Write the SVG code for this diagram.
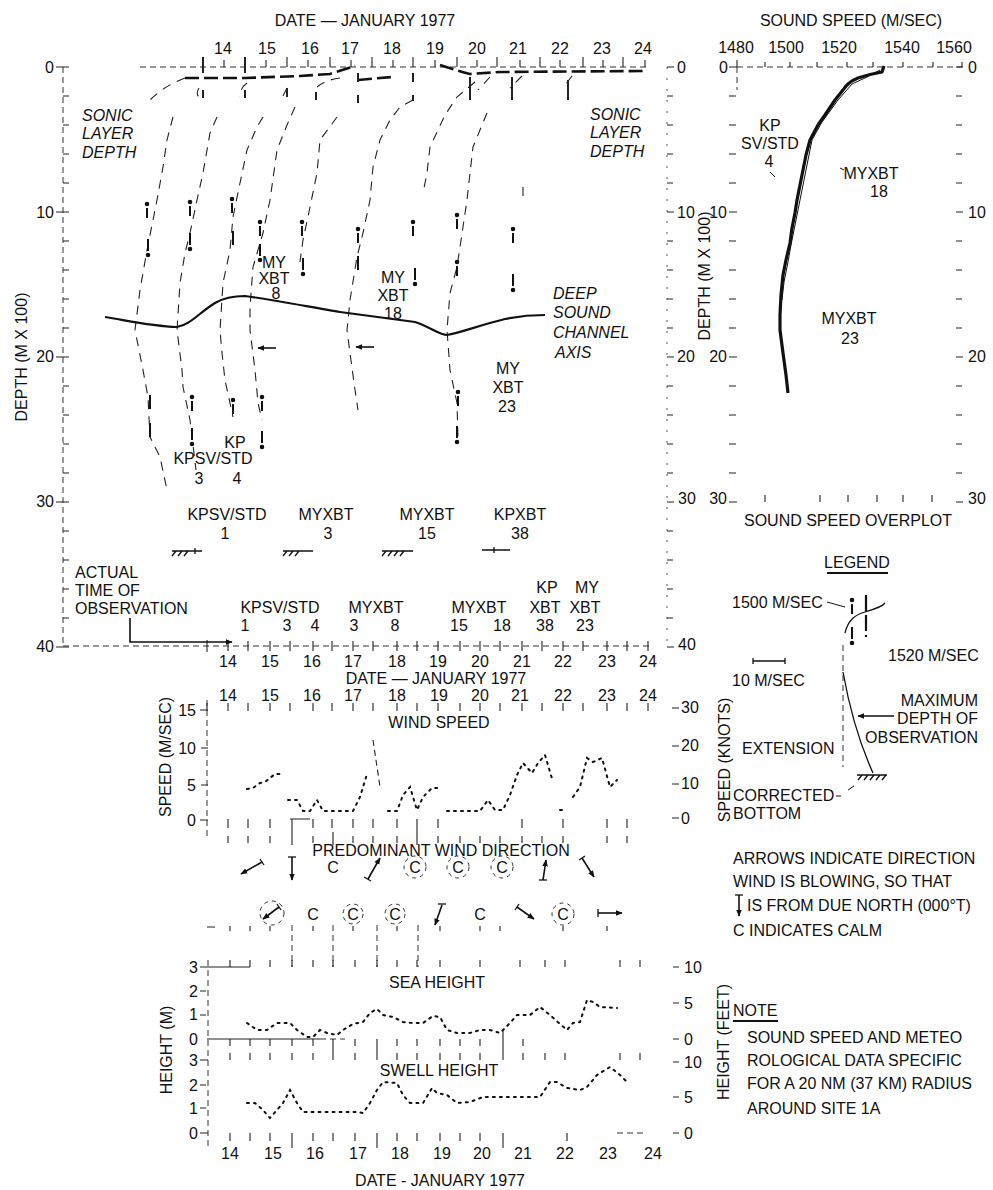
<svg xmlns="http://www.w3.org/2000/svg" width="993" height="1190" viewBox="0 0 993 1190">
<defs>
<style>
text{font-family:"Liberation Sans",Arial,sans-serif;font-size:16px;fill:#111}
.i{font-style:italic}
.m{text-anchor:middle}
.e{text-anchor:end}
.ax{fill:none;stroke:#222;stroke-width:1.1}
.dax{fill:none;stroke:#333;stroke-width:1;stroke-dasharray:6 4}
.fax{fill:none;stroke:#555;stroke-width:1;stroke-dasharray:2 9}
.tr{fill:none;stroke:#222;stroke-width:1.1;stroke-dasharray:9 7}
.sl{fill:none;stroke:#111;stroke-width:2.6;stroke-dasharray:14 5}
.dat{fill:none;stroke:#111;stroke-width:2;stroke-dasharray:2 5;stroke-linecap:round}
.arr{fill:none;stroke:#111;stroke-width:1.6;marker-end:url(#ah)}
.thin{fill:none;stroke:#111;stroke-width:1.3}
.cir{fill:none;stroke:#333;stroke-width:1;stroke-dasharray:4 4}
.mk{stroke:#111;stroke-width:2;fill:#111}
</style>
<marker id="ah" viewBox="0 0 10 10" refX="9" refY="5" markerWidth="7" markerHeight="7" orient="auto" markerUnits="userSpaceOnUse"><path d="M0,1 L10,5 L0,9 z" fill="#111"/></marker>
<g id="mi"><circle cx="0" cy="-8" r="1.3"/><path d="M0,-4V6"/></g>
<g id="mx"><path d="M0,-9V3"/><circle cx="0" cy="7" r="1.3"/></g>
<g id="mb"><path d="M0,-7V7"/></g>
</defs>
<rect width="993" height="1190" fill="#fff"/>

<g id="main-plot-axes">
<text x="365" y="26" class="m">DATE — JANUARY 1977</text>
<g class="m">
<text x="223" y="54">14</text><text x="267" y="54">15</text><text x="310" y="54">16</text><text x="350" y="54">17</text><text x="392" y="54">18</text><text x="435" y="54">19</text><text x="477" y="54">20</text><text x="518" y="54">21</text><text x="560" y="54">22</text><text x="602" y="54">23</text><text x="643" y="54">24</text>
</g>
<path class="dax" d="M140,67H650"/>
<path class="ax" d="M203,57V67M224,60V67M245,57V67M266,60V67M287,57V67M308,60V67M330,57V67M351,60V67M372,57V67M393,60V67M413,57V67M435,60V67M457,57V67M477,60V67M497,57V67M520,60V67M540,57V67M560,60V67M583,57V67M603,60V67M623,57V67M645,60V67"/>
<path class="dax" d="M63,67V647"/>
<path class="ax" d="M56,67h13M63,96h6M63,125h6M63,154h6M63,183h6M56,212h13M63,241h6M63,270h6M63,299h6M63,328h6M56,357h13M63,386h6M63,415h6M63,444h6M63,473h6M56,502h13M63,531h6M63,560h6M63,589h6M63,618h6M56,647h13"/>
<g class="e"><text x="54" y="73">0</text><text x="54" y="218">10</text><text x="54" y="362">20</text><text x="54" y="507">30</text><text x="54" y="652">40</text></g>
<text transform="translate(27,357) rotate(-90)" class="m">DEPTH (M X 100)</text>
<path class="fax" d="M667,67V647"/>
<path class="ax" d="M667,67h7M667,96h6M667,125h6M667,154h6M667,183h6M667,212h7M667,241h6M667,270h6M667,299h6M667,328h6M667,357h7M667,386h6M667,415h6M667,444h6M667,473h6M667,502h7M667,531h6M667,560h6M667,589h6M667,618h6M667,647h7"/>
<g><text x="677" y="73">0</text><text x="677" y="218">10</text><text x="677" y="362">20</text><text x="678" y="504">30</text><text x="678" y="650">40</text></g>
<path class="dax" d="M63,646H650"/>
<path class="ax" d="M207,640V652M228,641V651M248,641V651M270,641V651M290,641V651M313,641V651M332,641V651M353,641V651M373,641V651M397,641V651M417,641V651M438,641V651M460,641V651M480,641V651M500,641V651M522,641V651M542,641V651M563,641V651M583,641V651M607,641V651M627,641V651M648,641V651"/>
<g class="m">
<text x="228" y="667">14</text><text x="270" y="667">15</text><text x="312" y="667">16</text><text x="353" y="667">17</text><text x="397" y="667">18</text><text x="438" y="667">19</text><text x="480" y="667">20</text><text x="522" y="667">21</text><text x="563" y="667">22</text><text x="607" y="667">23</text><text x="648" y="667">24</text>
</g>
<text x="436" y="684" class="m">DATE — JANUARY 1977</text>
</g>

<g id="sound-speed-profiles">
<path class="sl" d="M185,78L245,78L300,76L330,74Q345,69 355,66M358,80L392,77M440,65Q455,70 470,74L500,72L645,71"/>
<path class="tr" d="M185,78Q163,86 147,103"/>
<path class="tr" d="M173,117L167,140L163,167L157,200L147,250L140,290L135,330L143,370L148,397L150,437L160,457L167,490"/>
<path class="tr" d="M199,88Q195,94 200,98M217,117L210,133L203,173L197,200L190,233L185,253L180,283L177,330L182,370L183,387L190,420L196,470"/>
<path class="tr" d="M247,83Q240,88 240,97M263,117L257,127L247,150L240,183L233,217L230,250L223,283L220,330L222,353L225,380L233,417"/>
<path class="tr" d="M287,88L283,96M295,107L287,125L277,150L270,200L263,233L253,267L250,307L250,330L255,370L258,403L262,420"/>
<path class="tr" d="M317,87Q325,80 340,78M337,117L320,140L317,173L310,207L303,240L300,262"/>
<path class="tr" d="M413,100L400,107L390,120L380,140L373,167L370,200L363,233L357,257L350,300L347,330L350,353L355,390L358,410"/>
<path class="tr" d="M475,82L457,97L445,115L430,147L427,173L423,193"/>
<path class="tr" d="M490,77L478,90M487,113L473,147L470,173L467,200L463,227L457,267L450,293L447,330L450,370L457,403L458,440"/>
<path class="tr" d="M522,76L510,88M523,187L523,200"/>
<path class="tr" d="M572,76L563,88"/>
<path class="ax" d="M203,57V73M245,57V73M287,88V97M203,90V98M245,90V98M316,92V100M358,73V82M358,95V103M413,73V82M413,95V101M470,77V100M512,77V100M568,80V100" style="stroke-width:2"/>
<g class="mk">
<use href="#mi" x="147" y="212"/><use href="#mx" x="148" y="248"/>
<use href="#mi" x="190" y="210"/><use href="#mx" x="190" y="242"/>
<use href="#mi" x="232" y="207"/><use href="#mb" x="233" y="238"/>
<use href="#mi" x="260" y="230"/><use href="#mx" x="260" y="253"/>
<use href="#mi" x="302" y="230"/><use href="#mx" x="303" y="267"/>
<use href="#mi" x="358" y="237"/><use href="#mb" x="358" y="263"/>
<use href="#mi" x="413" y="230"/><use href="#mx" x="415" y="277"/>
<use href="#mi" x="457" y="223"/><use href="#mi" x="457" y="270"/>
<use href="#mi" x="513" y="237"/><use href="#mx" x="513" y="283"/>
<use href="#mb" x="150" y="402"/><use href="#mb" x="150" y="430"/>
<use href="#mi" x="192" y="405"/><use href="#mx" x="192" y="437"/>
<use href="#mi" x="233" y="408"/>
<use href="#mi" x="262" y="405"/><use href="#mx" x="262" y="440"/>
<use href="#mi" x="458" y="400"/><use href="#mx" x="457" y="435"/>
</g>
<path d="M105,317C125,320 150,326 177,327C190,325 200,312 215,303C225,297 235,296 245,296C270,299 320,309 340,312C370,316 400,320 415,322C430,327 440,335 447,335C460,333 480,325 505,319C520,316 535,315 545,315" fill="none" stroke="#111" stroke-width="2.2"/>
<path class="arr" d="M276,348H258"/>
<path class="arr" d="M374,347H356"/>
<path class="thin" d="M172,551H202M176,551l-4,5M182,551l-4,5M188,551l-4,5M195,548v6M283,551H313M287,551l-4,5M293,551l-4,5M299,551l-4,5M382,551H413M386,551l-4,5M392,551l-4,5M398,551l-4,5M404,551l-4,5M482,550H510M494,547v6"/>
<path class="arr" d="M130,618V642H232"/>
</g>

<g id="main-labels">
<g class="i"><text x="82" y="121">SONIC</text><text x="82" y="139">LAYER</text><text x="82" y="158">DEPTH</text>
<text x="590" y="120">SONIC</text><text x="590" y="138">LAYER</text><text x="590" y="157">DEPTH</text>
<text x="553" y="299">DEEP</text><text x="553" y="318">SOUND</text><text x="553" y="338">CHANNEL</text><text x="555" y="358">AXIS</text></g>
<g class="m">
<text x="274" y="268">MY</text><text x="274" y="284">XBT</text><text x="276" y="299">8</text>
<text x="393" y="283">MY</text><text x="393" y="301">XBT</text><text x="393" y="319">18</text>
<text x="508" y="374">MY</text><text x="508" y="393">XBT</text><text x="507" y="412">23</text>
<text x="235" y="448">KP</text><text x="213" y="464">KPSV/STD</text><text x="199" y="484">3</text><text x="237" y="484">4</text>
<text x="227" y="520">KPSV/STD</text><text x="225" y="539">1</text>
<text x="326" y="520">MYXBT</text><text x="328" y="539">3</text>
<text x="427" y="520">MYXBT</text><text x="427" y="539">15</text>
<text x="520" y="520">KPXBT</text><text x="520" y="539">38</text>
<text x="280" y="613">KPSV/STD</text><text x="245" y="631">1</text><text x="287" y="631">3</text><text x="315" y="631">4</text>
<text x="376" y="613">MYXBT</text><text x="354" y="631">3</text><text x="395" y="631">8</text>
<text x="479" y="613">MYXBT</text><text x="459" y="631">15</text><text x="502" y="631">18</text>
<text x="547" y="593">KP</text><text x="545" y="613">XBT</text><text x="545" y="631">38</text>
<text x="587" y="593">MY</text><text x="585" y="613">XBT</text><text x="585" y="631">23</text>
</g>
<text x="75" y="578">ACTUAL</text><text x="75" y="596">TIME OF</text><text x="75" y="614">OBSERVATION</text>
</g>

<g id="sound-speed-overplot">
<text x="851" y="26" class="m">SOUND SPEED (M/SEC)</text>
<g class="m"><text x="736" y="53">1480</text><text x="786" y="53">1500</text><text x="839" y="53">1520</text><text x="902" y="53">1540</text><text x="954" y="53">1560</text></g>
<path class="dax" d="M737,67H962"/>
<path class="ax" d="M737,60V67M765,62V67M790,62V67M817,62V67M847,62V67M873,62V67M903,62V67M933,62V67M962,62V67"/>
<path class="ax" d="M729,67h8M729,96h7M729,125h7M729,154h7M729,183h7M729,212h8M729,241h7M729,270h7M729,299h7M729,328h7M729,357h8M729,386h7M729,415h7M729,444h7M729,473h7M729,502h8M956,67h7M956,96h6M956,125h6M956,154h6M956,183h6M956,212h7M956,241h6M956,270h6M956,299h6M956,328h6M956,357h7M956,386h6M956,415h6M956,444h6M956,473h6M956,502h7M765,495V502M820,495V502M848,495V502M877,495V502M903,495V502M932,495V502"/>
<path class="dax" d="M737,67V90"/>
<g class="e"><text x="728" y="73">0</text><text x="727" y="218">10</text><text x="727" y="362">20</text><text x="727" y="504">30</text></g>
<g><text x="968" y="73">0</text><text x="968" y="218">10</text><text x="968" y="362">20</text><text x="968" y="504">30</text></g>
<text transform="translate(710,276) rotate(-90)" class="m">DEPTH (M X 100)</text>
<path d="M884,66L882,72Q870,74 858,78Q848,82 843,90L835,100L827,112L818,125L810,140L806,155L803,170L800,185L797,200L795,213L792,228L790,243L786,260L783,275L781,295L780,315L780,330L783,353L786,375L788,393" fill="none" stroke="#111" stroke-width="3.2" stroke-linejoin="round"/>
<path d="M880,70Q866,78 852,84L838,100L822,122L812,140L808,160L804,180L799,205L795,225L791,245L788,262L784,282L782,300" fill="none" stroke="#111" stroke-width="1"/>
<g class="m"><text x="770" y="131">KP</text><text x="770" y="149">SV/STD</text><text x="769" y="167">4</text>
<text x="871" y="179">MYXBT</text><text x="879" y="197">18</text>
<text x="849" y="324">MYXBT</text><text x="850" y="344">23</text></g>
<path class="thin" d="M770,172l5,5M840,168l4,2" style="stroke-width:1"/>
<text x="848" y="526" class="m">SOUND SPEED OVERPLOT</text>
</g>

<g id="legend">
<text x="857" y="568" class="m">LEGEND</text>
<path d="M827,573H888" stroke="#111" stroke-width="2"/>
<text x="732" y="608">1500 M/SEC</text>
<path class="thin" d="M827,602L845,607" style="stroke-width:1"/>
<g class="mk"><use href="#mi" x="852" y="608"/><use href="#mx" x="852" y="636"/></g>
<path d="M866,595V637" stroke="#111" stroke-width="2.2" stroke-dasharray="16 4"/>
<path class="thin" d="M845,633C848,620 855,615 865,612C875,609 882,607 885,603"/>
<text x="888" y="661">1520 M/SEC</text>
<path class="thin" d="M753,661H785M753,658v6M785,658v6"/>
<text x="732" y="686">10 M/SEC</text>
<path class="dax" d="M843,645V767"/>
<path class="thin" d="M843,672C848,700 858,740 873,773"/>
<text x="978" y="706" class="e">MAXIMUM</text>
<text x="978" y="724" class="e">DEPTH OF</text>
<text x="978" y="743" class="e">OBSERVATION</text>
<path class="arr" d="M894,716H858"/>
<text x="742" y="754">EXTENSION</text>
<path class="thin" d="M857,775H887M862,775l-4,5M868,775l-4,5M874,775l-4,5M880,775l-4,5M886,775l-4,5"/>
<text x="733" y="801">CORRECTED</text>
<text x="733" y="819">BOTTOM</text>
<path class="thin" d="M836,796h5M848,790l6,-4" style="stroke-width:1"/>
</g>

<g id="wind-speed">
<g class="m">
<text x="228" y="701">14</text><text x="270" y="701">15</text><text x="312" y="701">16</text><text x="353" y="701">17</text><text x="397" y="701">18</text><text x="439" y="701">19</text><text x="480" y="701">20</text><text x="520" y="701">21</text><text x="563" y="701">22</text><text x="607" y="701">23</text><text x="648" y="701">24</text>
</g>
<path class="ax" d="M207,703V711M228,703V711M248,703V711M270,703V711M290,703V711M313,703V711M332,703V711M353,703V711M373,703V711M397,703V711M417,703V711M438,703V711M460,703V711M480,703V711M500,703V711M522,703V711M542,703V711M563,703V711M583,703V711M607,703V711M627,703V711M648,703V711"/>
<path class="dax" d="M207,700V840"/>
<path class="ax" d="M200,710h8M201,748h7M201,785h7M200,820h8M672,708h7M672,746h7M672,784h7M672,818h7"/>
<g class="e"><text x="196" y="716">15</text><text x="196" y="754">10</text><text x="196" y="791">5</text><text x="196" y="826">0</text></g>
<g><text x="681" y="713">30</text><text x="681" y="751">20</text><text x="681" y="789">10</text><text x="681" y="824">0</text></g>
<text transform="translate(171,757) rotate(-90)" class="m">SPEED (M/SEC)</text>
<text transform="translate(730,760) rotate(-90)" class="m">SPEED (KNOTS)</text>
<text x="439" y="728" class="m">WIND SPEED</text>
<path class="ax" d="M228,819V828M248,819V828M270,819V828M290,819H310M292,819V845M313,819V828M332,819V828M353,819V828M373,819V828M397,819V828M417,819V845M438,819V828M522,819V828M563,819V828M607,819V828M627,819V828"/>
<path class="ax" d="M228,836V843M248,836V843M270,836V843M313,836V843M333,832V845M353,836V843M373,836V843M397,836V843M438,836V843M460,836V843M480,836V843M500,836V843M522,836V843M542,836V843M563,836V843M607,836V843M627,836V843"/>
<path class="dat" d="M247,789L253,788L260,783L265,782L275,774L282,774"/>
<path class="dat" d="M288,800L297,800L303,811L310,811L317,800L323,811L353,811L360,797L367,774"/>
<path class="tr" d="M373,740L380,787" style="stroke-dasharray:6 4"/>
<path class="dat" d="M388,811L397,811L403,795L410,787L417,810L423,797L432,788L440,788"/>
<path class="dat" d="M447,811L480,811L488,800L495,810L503,810L510,795L517,775L523,763L532,773L538,763L545,755L553,782"/>
<path class="dat" d="M560,810L567,810M573,797L580,787L587,758L593,762L602,758L610,787L617,780"/>
</g>

<g id="wind-direction">
<text x="441" y="856" class="m">PREDOMINANT WIND DIRECTION</text>
<path class="arr" d="M262,862L241,874"/><path class="thin" d="M260,859l4,6"/>
<path class="arr" d="M292,857L292,880"/><path class="thin" d="M288,857h8"/>
<path class="arr" d="M368,879L380,858"/><path class="thin" d="M364,877l7,4"/>
<path class="arr" d="M543,880L546,860"/><path class="thin" d="M539,880h8"/>
<path class="arr" d="M582,858L594,877"/><path class="thin" d="M579,860l6,-4"/>
<path class="arr" d="M279,907L263,919"/><path class="thin" d="M277,904l4,6"/>
<path class="arr" d="M442,905L435,925"/><path class="thin" d="M438,904h8"/>
<path class="arr" d="M517,907L534,919"/><path class="thin" d="M515,910l4,-6"/>
<path class="arr" d="M598,913L622,913"/><path class="thin" d="M598,909v8"/>
<g class="m">
<text x="333" y="873">C</text><text x="415" y="873">C</text><text x="458" y="873">C</text><text x="502" y="873">C</text>
<text x="313" y="920">C</text><text x="353" y="920">C</text><text x="395" y="920">C</text><text x="480" y="920">C</text><text x="563" y="920">C</text>
</g>
<circle class="cir" cx="458" cy="867" r="11"/>
<circle class="cir" cx="502" cy="867" r="11" stroke-dasharray="14 8"/>
<circle class="cir" cx="415" cy="867" r="11" stroke-dasharray="3 9"/>
<circle class="cir" cx="563" cy="914" r="11" stroke-dasharray="16 6"/>
<circle class="cir" cx="272" cy="913" r="12" stroke-dasharray="5 7"/>
<circle class="cir" cx="395" cy="914" r="10" stroke-dasharray="3 9"/>
<circle class="cir" cx="353" cy="914" r="10" stroke-dasharray="3 12"/>
<path class="ax" d="M207,927h8M230,926V931M250,926V931M270,926V931M313,926V931M353,926V931M397,926V931M440,926V931M480,926V931M500,926V931M563,926V931M607,926V931"/>
<path class="dax" d="M292,925V967M333,925V967M377,925V967M418,925V967"/>
</g>

<g id="wind-notes">
<text x="733" y="864">ARROWS INDICATE DIRECTION</text>
<text x="733" y="887">WIND IS BLOWING, SO THAT</text>
<path class="arr" d="M739,895V916"/><path class="thin" d="M735,895h8"/>
<text x="747" y="911">IS FROM DUE NORTH (000°T)</text>
<text x="733" y="936">C INDICATES CALM</text>
</g>

<g id="heights">
<path class="ax" d="M200,967H250M230,960V967M250,960V967M270,960V967M292,960V967M313,960V967M333,960V967M355,960V967M377,960V967M397,960V967M417,960V967M440,960V967M480,960V967M520,960V967M545,960V967M565,960V967M620,960V967M640,960V967"/>
<path class="dax" d="M208,960V1150"/>
<path class="ax" d="M200,991h6M200,1015h6M200,1060h8M200,1085h6M200,1108h6M200,1133h8"/>
<g class="e"><text x="198" y="973">3</text><text x="198" y="997">2</text><text x="198" y="1020">1</text><text x="198" y="1045">0</text><text x="198" y="1066">3</text><text x="198" y="1091">2</text><text x="198" y="1114">1</text><text x="198" y="1139">0</text></g>
<text transform="translate(172,1050) rotate(-90)" class="m">HEIGHT (M)</text>
<path class="ax" d="M207,1039H320"/>
<path class="dax" d="M320,1039H345"/>
<path class="ax" d="M230,1039V1046M250,1039V1046M270,1039V1046M292,1039V1046M313,1039V1046M333,1039V1060M355,1039V1046M377,1039V1060M397,1039V1046M417,1039V1046M440,1039V1046M460,1039V1046M480,1039V1046M503,1030V1060M523,1039V1046"/>
<path class="ax" d="M230,1053V1060M250,1053V1060M270,1053V1060M292,1053V1060M313,1053V1060M355,1053V1060M397,1053V1060M417,1053V1060M440,1053V1060M460,1053V1060M480,1053V1060M523,1053V1060M545,1053V1060M565,1053V1060M620,1053V1060M640,1053V1060"/>
<path class="ax" d="M230,1133V1141M250,1133V1141M270,1133V1141M292,1133V1148M313,1133V1141M333,1133V1141M355,1133V1141M377,1133V1148M397,1133V1141M417,1133V1141M440,1133V1141M460,1133V1141M480,1133V1141M503,1133V1148M567,1133V1141"/>
<path class="dax" d="M617,1133H645"/>
<text x="437" y="988" class="m">SEA HEIGHT</text>
<text x="439" y="1076" class="m">SWELL HEIGHT</text>
<path class="dat" d="M247,1023L257,1030L267,1030L277,1023L290,1023L297,1030L307,1037L313,1037L320,1030L327,1033L337,1035L343,1030L353,1024L363,1022L370,1013L377,1009L383,1015L393,1017L403,1022L413,1023L423,1023L433,1016L440,1017L447,1030L457,1033L470,1033L480,1030L490,1030L500,1033L510,1023L517,1015L530,1015L540,1007L550,1015L560,1024L567,1030L573,1023L580,1022L587,1000L593,1002L600,1007L617,1008"/>
<path class="dat" d="M247,1103L255,1103L263,1110L270,1118L277,1110L283,1103L290,1090L297,1103L303,1112L357,1112L363,1113L370,1103L377,1090L383,1082L397,1083L403,1095L410,1103L423,1103L432,1088L437,1093L447,1095L457,1103L470,1102L483,1097L540,1097L550,1082L557,1082L567,1088L580,1090L587,1087L597,1075L610,1067L620,1075L627,1082"/>
<path class="ax" d="M673,967h6M673,1003h6M673,1039h6M673,1062h6M673,1097h6M673,1133h6"/>
<g><text x="684" y="973">10</text><text x="684" y="1009">5</text><text x="684" y="1045">0</text><text x="684" y="1068">10</text><text x="684" y="1103">5</text><text x="684" y="1139">0</text></g>
<text transform="translate(729,1042) rotate(-90)" class="m">HEIGHT (FEET)</text>
<g class="m">
<text x="230" y="1159">14</text><text x="273" y="1159">15</text><text x="315" y="1159">16</text><text x="358" y="1159">17</text><text x="400" y="1159">18</text><text x="442" y="1159">19</text><text x="482" y="1159">20</text><text x="523" y="1159">21</text><text x="565" y="1159">22</text><text x="608" y="1159">23</text><text x="653" y="1159">24</text>
</g>
<text x="440" y="1186" class="m">DATE  - JANUARY 1977</text>
</g>

<g id="note">
<text x="733" y="1016">NOTE</text>
<path d="M733,1021H778" stroke="#111" stroke-width="2"/>
<text x="747" y="1043">SOUND SPEED AND METEO</text>
<text x="747" y="1066">ROLOGICAL DATA SPECIFIC</text>
<text x="747" y="1089">FOR A 20 NM (37 KM) RADIUS</text>
<text x="747" y="1114">AROUND SITE 1A</text>
</g>
</svg>
